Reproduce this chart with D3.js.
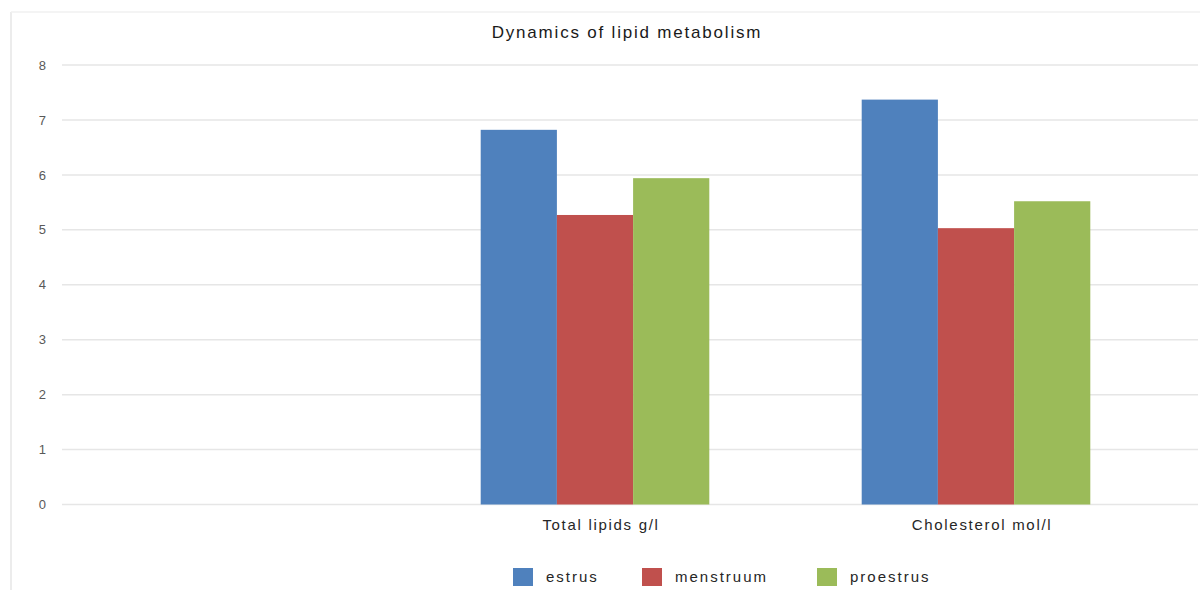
<!DOCTYPE html>
<html>
<head>
<meta charset="utf-8">
<script src="https://cdn.jsdelivr.net/npm/d3@7"></script>
<style>
  html, body { margin: 0; padding: 0; background: #fff; }
  svg { display: block; font-family: "Liberation Sans", Arial, sans-serif; }
</style>
</head>
<body>
<svg id="chart" width="1200" height="590"></svg>
<script>
// Categories (the first slot is an empty category with no label)
const categories = ["", "Total lipids g/l", "Cholesterol mol/l"];
const seriesNames = ["estrus", "menstruum", "proestrus"];
const estrus    = [null, 6.82, 7.37];
const menstruum = [null, 5.27, 5.03];
const proestrus = [null, 5.94, 5.52];
const yTicks = [0, 1, 2, 3, 4, 5, 6, 7, 8];
const colors = ["#4F81BD", "#C0504D", "#9BBB59"];

const seriesValues = [estrus, menstruum, proestrus];

const svg = d3.select("#chart");
const W = 1200, H = 590;

// Outer frame (left and top edges only are visible)
svg.append("line").attr("x1", 11).attr("x2", 11).attr("y1", 12).attr("y2", H)
  .attr("stroke", "#ececec").attr("stroke-width", 2);
svg.append("line").attr("x1", 11).attr("x2", W).attr("y1", 12).attr("y2", 12)
  .attr("stroke", "#f0f0f0").attr("stroke-width", 1.5);

const gridLeft = 62, gridRight = 1198;

const y = d3.scaleLinear().domain([0, 8]).range([504.5, 65]);
const x = d3.scaleBand().domain(categories).range([23.5, 1166.5]).paddingInner(0).paddingOuter(0);
// bar cluster occupies 60% of each band
const groupW = x.bandwidth() * 0.6;
const x1 = d3.scaleBand().domain(seriesNames)
  .range([(x.bandwidth() - groupW) / 2, (x.bandwidth() + groupW) / 2]);

// Gridlines
svg.append("g").selectAll("line").data(yTicks).join("line")
  .attr("x1", gridLeft).attr("x2", gridRight)
  .attr("y1", d => y(d)).attr("y2", d => y(d))
  .attr("stroke", "#e6e6e6").attr("stroke-width", 1.5);

// Y axis labels
const yAxis = d3.axisLeft(y).tickValues(yTicks).tickSize(0).tickPadding(0).tickFormat(d3.format("d"));
const gy = svg.append("g").attr("transform", "translate(46,0)").call(yAxis);
gy.select(".domain").remove();
gy.selectAll("text").attr("fill", "#595959").style("font-size", "13px")
  .style("font-family", "'Liberation Sans', Arial, sans-serif");

// Bars
const groups = svg.append("g").selectAll("g").data(categories).join("g")
  .attr("transform", d => `translate(${x(d)},0)`);
groups.selectAll("rect")
  .data((c, ci) => seriesNames.map((s, si) => ({ s, si, v: seriesValues[si][ci] })).filter(d => d.v != null))
  .join("rect")
  .attr("x", d => x1(d.s))
  .attr("width", x1.bandwidth())
  .attr("y", d => y(d.v))
  .attr("height", d => y(0) - y(d.v))
  .attr("fill", d => colors[d.si]);

// X axis labels
const xAxis = d3.axisBottom(x).tickSize(0).tickPadding(0);
const gx = svg.append("g").attr("transform", "translate(6,519)").call(xAxis);
gx.select(".domain").remove();
gx.selectAll("text").attr("fill", "#262626").style("font-size", "15px")
  .style("letter-spacing", "1.7px")
  .style("font-family", "'Liberation Sans', Arial, sans-serif");

// Title
svg.append("text").attr("x", 627).attr("y", 38).attr("text-anchor", "middle")
  .attr("fill", "#1a1a1a").style("font-size", "17px").style("letter-spacing", "1.8px")
  .text("Dynamics of lipid metabolism");

// Legend
const legendX = [513, 642, 817];
const lg = svg.append("g").selectAll("g").data(seriesNames).join("g")
  .attr("transform", (d, i) => `translate(${legendX[i]},568)`);
lg.append("rect").attr("width", 20).attr("height", 18).attr("fill", (d, i) => colors[i]);
lg.append("text").attr("x", 33).attr("y", 14).attr("fill", "#262626")
  .style("font-size", "15px").style("letter-spacing", "2px").text(d => d);
</script>
</body>
</html>
